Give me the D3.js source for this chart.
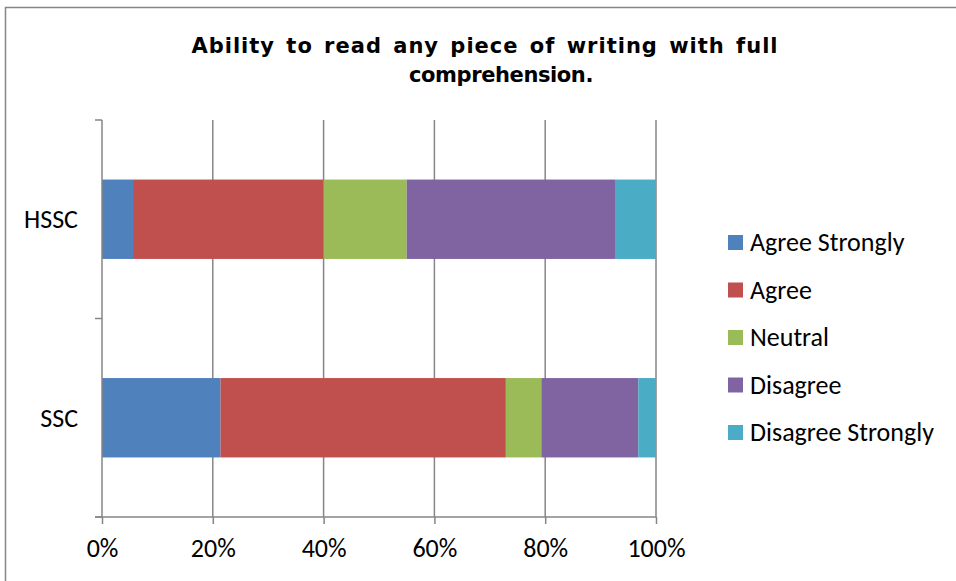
<!DOCTYPE html>
<html>
<head>
<meta charset="utf-8">
<script src="https://cdn.jsdelivr.net/npm/d3@7"></script>
<style>
  body { margin: 0; background: #fff; }
  .lbl { font-family: Carlito, Calibri, "Liberation Sans Narrow", "Liberation Sans", sans-serif; fill: #000; }
</style>
</head>
<body>
<div id="chart"></div>
<script>
const width = 956;
const height = 581;

// data (percent of respondents)
const levels = ["HSSC", "SSC"];
const responses = ["Agree Strongly", "Agree", "Neutral", "Disagree", "Disagree Strongly"];
const hsscValues = [5.6, 34.4, 15.0, 37.6, 7.4];
const sscValues = [21.4, 51.5, 6.4, 17.5, 3.2];
const colors = ["#4F81BD", "#C0504D", "#9BBB59", "#8064A2", "#4BACC6"];
const xTicks = [0, 0.2, 0.4, 0.6, 0.8, 1];

const rows = [hsscValues, sscValues].map((vals, i) => {
  let r = {level: levels[i]};
  responses.forEach((k, j) => r[k] = vals[j]);
  return r;
});

const svg = d3.select("#chart")
    .append("svg")
    .attr("width", width)
    .attr("height", height);

// outer chart border (right and bottom edges fall outside the crop)
svg.append("rect")
    .attr("x", 5.5).attr("y", 7.5)
    .attr("width", 960).attr("height", 600)
    .attr("fill", "none")
    .attr("stroke", "#868686")
    .attr("stroke-width", 1.5);

let x = d3.scaleLinear().domain([0, 1]).range([102, 656]);
let y = d3.scaleBand().domain(levels).range([120, 517])
    .paddingInner(0.6).paddingOuter(0.3);

const series = d3.stack().keys(responses).offset(d3.stackOffsetExpand)(rows);

// gridlines
svg.append("g").selectAll("line")
    .data(xTicks.slice(1))
    .join("line")
    .attr("x1", d => x(d)).attr("x2", d => x(d))
    .attr("y1", 120).attr("y2", 517)
    .attr("stroke", "#868686")
    .attr("stroke-width", 1.5);

// bars
svg.append("g").selectAll("g")
    .data(series)
    .join("g")
    .attr("fill", (d, i) => colors[i])
    .selectAll("rect")
    .data(d => d)
    .join("rect")
    .attr("x", d => x(d[0]))
    .attr("width", d => x(d[1]) - x(d[0]))
    .attr("y", d => y(d.data.level))
    .attr("height", y.bandwidth());

// y axis with ticks at category boundaries
const yAxis = svg.append("g").attr("stroke", "#868686").attr("stroke-width", 1.5);
yAxis.append("line")
    .attr("x1", x(0)).attr("x2", x(0))
    .attr("y1", 120).attr("y2", 517);
yAxis.selectAll(".tk")
    .data(d3.range(levels.length + 1))
    .join("line")
    .attr("class", "tk")
    .attr("x1", x(0) - 7).attr("x2", x(0))
    .attr("y1", i => 120 + i * (397 / levels.length))
    .attr("y2", i => 120 + i * (397 / levels.length));

svg.append("g").selectAll("text")
    .data(levels)
    .join("text")
    .attr("class", "lbl")
    .attr("x", 78)
    .attr("y", d => y(d) + y.bandwidth() / 2)
    .attr("dy", "0.35em")
    .attr("text-anchor", "end")
    .style("font-size", "26px")
    .text(d => d);

// x axis
const xAxis = svg.append("g")
    .attr("transform", "translate(0,517)")
    .call(d3.axisBottom(x).tickValues(xTicks).tickFormat(d3.format(".0%")).tickSize(7).tickSizeOuter(0).tickPadding(15));
xAxis.select(".domain").attr("d", "M95,0H" + x(1)).attr("stroke", "#868686").attr("stroke-width", 1.5);
xAxis.selectAll(".tick line").attr("stroke", "#868686").attr("stroke-width", 1.5);
xAxis.selectAll(".tick text")
    .attr("class", "lbl")
    .style("font-size", "26px")
    .attr("fill", "#000");

// title
const title = svg.append("g")
    .style("font-family", "'DejaVu Sans', Verdana, sans-serif")
    .style("font-weight", "bold")
    .style("font-size", "21px");
title.append("text").attr("text-anchor", "middle")
    .attr("x", 485).attr("y", 53)
    .style("letter-spacing", "1px")
    .style("word-spacing", "3px")
    .text("Ability to read any piece of writing with full");
title.append("text").attr("text-anchor", "middle")
    .attr("x", 501).attr("y", 82)
    .style("letter-spacing", "-0.4px")
    .text("comprehension.");

// legend
const legend = svg.append("g").selectAll("g")
    .data(responses)
    .join("g")
    .attr("transform", (d, i) => `translate(728,${242 + i * 47.5})`);
legend.append("rect")
    .attr("x", 0).attr("y", -7)
    .attr("width", 15).attr("height", 15)
    .attr("fill", (d, i) => colors[i]);
legend.append("text")
    .attr("class", "lbl")
    .attr("x", 22)
    .attr("dy", "0.35em")
    .style("font-size", "26px")
    .text(d => d);
</script>
</body>
</html>
